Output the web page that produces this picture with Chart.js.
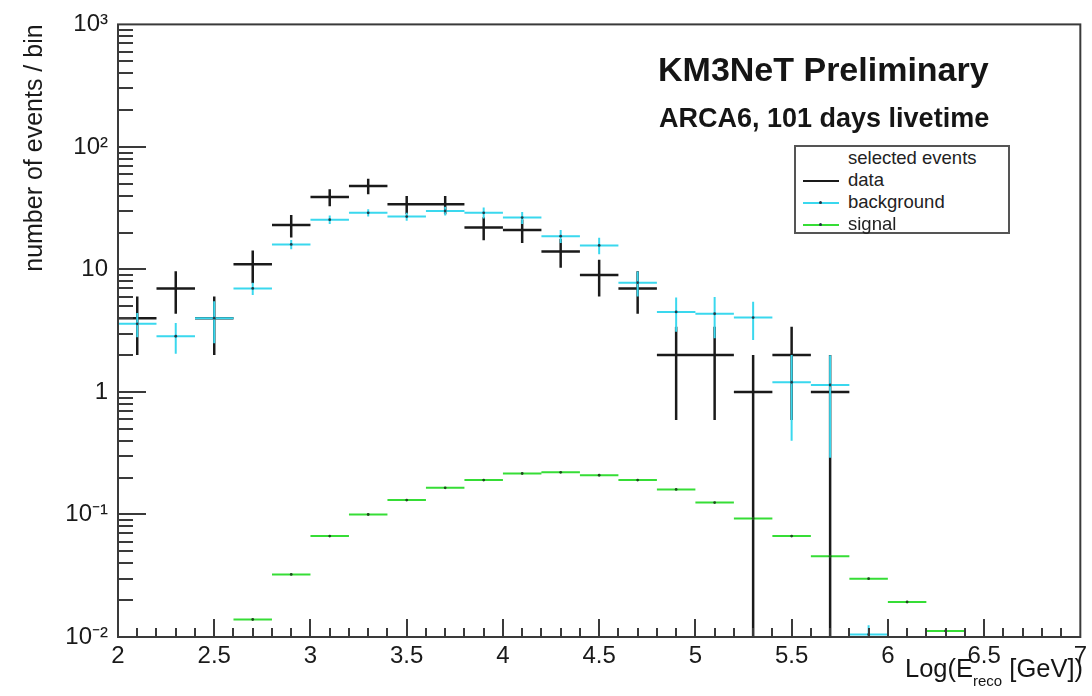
<!DOCTYPE html>
<html>
<head>
<meta charset="utf-8">
<title>KM3NeT ARCA6 energy spectrum</title>
<script src="https://cdn.jsdelivr.net/npm/chart.js@4.4.1/dist/chart.umd.min.js"></script>
<style>
  body { margin: 0; background: #fff; font-family: "Liberation Sans", Arial, Helvetica, sans-serif; }
  #wrap { position: relative; width: 1092px; height: 696px; }
  .txt { position: absolute; color: #151515; white-space: nowrap; }
  #title { left: 658px; top: 50px; font-size: 34px; font-weight: bold; }
  #subtitle { left: 659px; top: 103px; font-size: 27px; font-weight: bold; }
  #xtitle { right: 9px; top: 654px; font-size: 25.5px; }
  #xtitle sub { font-size: 15px; vertical-align: -9px; }
  #legend { position: absolute; left: 794px; top: 145px; width: 212px; height: 85px;
            border: 2px solid #555; background: #fff; font-size: 18.5px; color: #222; }
  .row { position: absolute; left: 0; width: 100%; height: 20px; }
  .row .smp { position: absolute; left: 7px; top: 11px; width: 36px; height: 2px; }
  .row .dot { position: absolute; left: 16px; top: -1px; width: 3px; height: 3px; background: #234; border-radius: 50%; }
  .row .lab { position: absolute; left: 52px; top: 0; white-space: nowrap; }
</style>
</head>
<body>
<div id="wrap">
  <canvas id="myChart"></canvas>
  <div class="txt" id="title">KM3NeT Preliminary</div>
  <div class="txt" id="subtitle">ARCA6, 101 days livetime</div>
  <div class="txt" id="xtitle">Log(E<sub>reco</sub> [GeV])</div>
  <div id="legend">
    <div class="row" style="top:0px"><span class="lab">selected events</span></div>
    <div class="row" style="top:22px"><div class="smp" style="background:#1a1a1a"></div><span class="lab">data</span></div>
    <div class="row" style="top:44px"><div class="smp" style="background:#3ad8ee"><div class="dot"></div></div><span class="lab">background</span></div>
    <div class="row" style="top:66px"><div class="smp" style="background:#36dd36"><div class="dot"></div></div><span class="lab">signal</span></div>
  </div>
</div>
<script>
// bins of width 0.2 in Log(E_reco / GeV)
const binCenters = [2.1, 2.3, 2.5, 2.7, 2.9, 3.1, 3.3, 3.5, 3.7, 3.9, 4.1, 4.3, 4.5,
                    4.7, 4.9, 5.1, 5.3, 5.5, 5.7, 5.9, 6.1, 6.3, 6.5, 6.7, 6.9];
const binHalfWidth = 0.1;

// selected events, data
const dataCounts = [4, 7, 4, 11, 23, 39, 48, 34, 34, 22, 21, 14, 9,
                    7, 2, 2, 1, 2, 1, null, null, null, null, null, null];
const dataErrors = [2, 2.65, 2, 3.3, 4.8, 6.2, 6.9, 5.8, 5.8, 4.7, 4.6, 3.7, 3,
                    2.65, 1.41, 1.41, 1, 1.41, 1, null, null, null, null, null, null];

// background expectation
const backgroundValues = [3.6, 2.85, 4.0, 7.0, 16, 25.5, 29, 27, 30, 29, 26.5, 18.7, 15.7,
                          7.8, 4.5, 4.35, 4.05, 1.2, 1.14, 0.0105, null, null, null, null, null];
const backgroundErrors = [0.8, 0.8, 1.5, 0.8, 1.4, 2.0, 2.0, 2.0, 2.5, 3.0, 3.0, 2.3, 2.4,
                          1.8, 1.4, 1.6, 1.4, 0.8, 0.85, 0.002, null, null, null, null, null];

// signal expectation
const signalValues = [null, null, null, 0.0139, 0.0324, 0.0667, 0.100, 0.131, 0.165, 0.191, 0.216, 0.221, 0.209,
                      0.191, 0.160, 0.125, 0.0927, 0.0667, 0.0456, 0.0299, 0.0193, 0.0112, null, null, null];

// axis ticks
const xTickValues = [2, 2.5, 3, 3.5, 4, 4.5, 5, 5.5, 6, 6.5, 7];
const xTickLabels = ['2', '2.5', '3', '3.5', '4', '4.5', '5', '5.5', '6', '6.5', '7'];
const yTickValues = [0.01, 0.1, 1, 10, 100, 1000];
const yTickLabels = ['10\u207B\u00B2', '10\u207B\u00B9', '1', '10', '10\u00B2', '10\u00B3'];

const yMin = 0.01, yMax = 1000;
const fontFamily = '"Liberation Sans", Arial, Helvetica, sans-serif';

// horizontal bin-width bars, separated by gaps
function binBars(values) {
    const pts = [];
    values.forEach((v, i) => {
        if (v === null || v <= 0) return;
        const c = binCenters[i];
        pts.push({x: c - binHalfWidth, y: v}, {x: c + binHalfWidth, y: v}, {x: c, y: null});
    });
    return pts;
}

// vertical error bars
function errorBars(values, errors) {
    const pts = [];
    values.forEach((v, i) => {
        if (v === null || v <= 0 || !errors[i]) return;
        const c = binCenters[i];
        pts.push({x: c, y: Math.max(v - errors[i], yMin)}, {x: c, y: v + errors[i]}, {x: c, y: null});
    });
    return pts;
}

function centerPoints(values) {
    const pts = [];
    values.forEach((v, i) => {
        if (v === null || v <= 0) return;
        pts.push({x: binCenters[i], y: v});
    });
    return pts;
}

function lineSet(data, color, width, order) {
    return {data: data, showLine: true, borderColor: color, borderWidth: width,
            pointRadius: 0, fill: false, spanGaps: false, order: order};
}

// ROOT style frame and inner tick marks
const rootFrame = {
    id: 'rootFrame',
    afterDraw(chart) {
        const {ctx, chartArea: a, scales} = chart;
        ctx.save();
        ctx.strokeStyle = '#3a3a3a';
        ctx.lineWidth = 2;
        ctx.strokeRect(a.left, a.top, a.right - a.left, a.bottom - a.top);
        ctx.beginPath();
        for (let i = 1; i < 50; i++) {
            const px = Math.round(scales.x.getPixelForValue(2 + i * 0.1));
            const len = i % 5 === 0 ? 18 : 9;
            ctx.moveTo(px, a.bottom);
            ctx.lineTo(px, a.bottom - len);
        }
        for (let e = -2; e <= 2; e++) {
            for (let k = 1; k <= 9; k++) {
                const v = k * Math.pow(10, e);
                if (v <= yMin) continue;
                const py = Math.round(scales.y.getPixelForValue(v));
                const len = k === 1 ? 28 : 15;
                ctx.moveTo(a.left, py);
                ctx.lineTo(a.left + len, py);
            }
        }
        ctx.stroke();
        ctx.restore();
    }
};

document.addEventListener('DOMContentLoaded', function () {
    const ctx = document.getElementById('myChart').getContext('2d');
    new Chart(ctx, {
        type: 'scatter',
        data: {
            datasets: [
                lineSet(binBars(signalValues), '#36dd36', 2, 1),
                {data: centerPoints(signalValues), pointRadius: 1.4, pointBackgroundColor: '#1d4a1d',
                 pointBorderWidth: 0, showLine: false, order: 0},
                lineSet(binBars(backgroundValues), '#3ad8ee', 2, 3),
                lineSet(errorBars(backgroundValues, backgroundErrors), '#3ad8ee', 2, 3),
                {data: centerPoints(backgroundValues), pointRadius: 1.4, pointBackgroundColor: '#1d3d4a',
                 pointBorderWidth: 0, showLine: false, order: 2},
                lineSet(binBars(dataCounts), '#1a1a1a', 2.5, 5),
                lineSet(errorBars(dataCounts, dataErrors), '#1a1a1a', 2.5, 5)
            ]
        },
        options: {
            responsive: true,
            maintainAspectRatio: false,
            animation: false,
            layout: {padding: {left: 0, right: 10, top: 20, bottom: 0}},
            plugins: {legend: {display: false}, tooltip: {enabled: false}},
            scales: {
                x: {
                    type: 'linear', min: 2, max: 7,
                    afterBuildTicks: s => { s.ticks = xTickValues.map(v => ({value: v})); },
                    afterFit: s => { s.height = 59; },
                    grid: {display: false, drawTicks: false},
                    border: {display: false},
                    ticks: {
                        callback: (v, i) => xTickLabels[i],
                        autoSkip: false, maxRotation: 0, padding: 5,
                        color: '#1a1a1a', font: {family: fontFamily, size: 24}
                    }
                },
                y: {
                    type: 'logarithmic', min: yMin, max: yMax,
                    afterBuildTicks: s => { s.ticks = yTickValues.map(v => ({value: v})); },
                    afterFit: s => { s.width = 118; },
                    grid: {display: false, drawTicks: false},
                    border: {display: false},
                    ticks: {
                        callback: (v, i) => yTickLabels[i],
                        autoSkip: false, padding: 10,
                        color: '#1a1a1a', font: {family: fontFamily, size: 24}
                    },
                    title: {
                        display: true, text: 'number of events / bin', align: 'end',
                        color: '#1a1a1a', font: {family: fontFamily, size: 25},
                        padding: {top: 20, bottom: 0}
                    }
                }
            }
        },
        plugins: [rootFrame]
    });
});
</script>
</body>
</html>
